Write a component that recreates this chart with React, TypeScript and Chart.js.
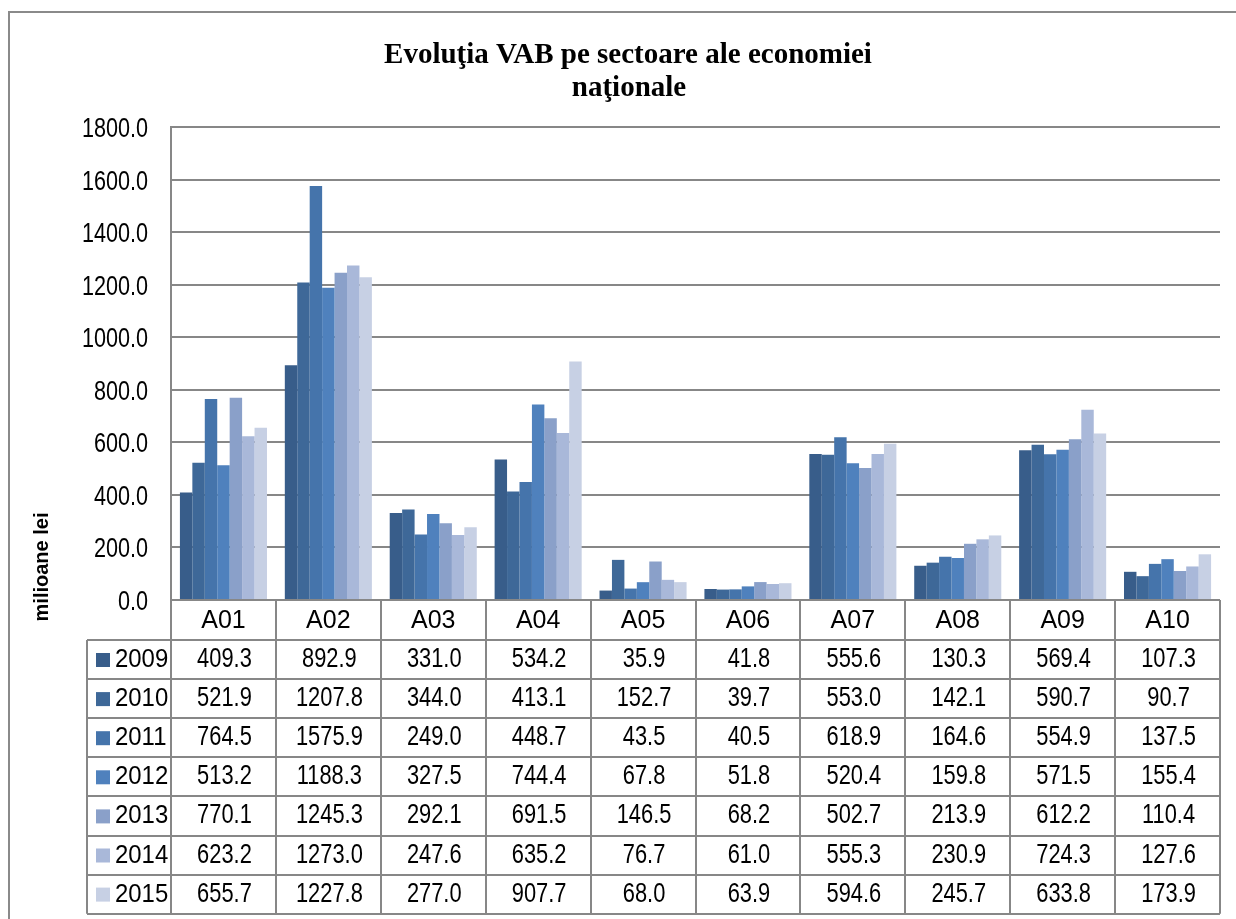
import React, { useEffect, useRef } from "react";
import { Chart, registerables } from "chart.js";

Chart.register(...registerables);

const categories = ["A01", "A02", "A03", "A04", "A05", "A06", "A07", "A08", "A09", "A10"];
const years = ["2009", "2010", "2011", "2012", "2013", "2014", "2015"];
const v2009 = [409.3, 892.9, 331.0, 534.2, 35.9, 41.8, 555.6, 130.3, 569.4, 107.3];
const v2010 = [521.9, 1207.8, 344.0, 413.1, 152.7, 39.7, 553.0, 142.1, 590.7, 90.7];
const v2011 = [764.5, 1575.9, 249.0, 448.7, 43.5, 40.5, 618.9, 164.6, 554.9, 137.5];
const v2012 = [513.2, 1188.3, 327.5, 744.4, 67.8, 51.8, 520.4, 159.8, 571.5, 155.4];
const v2013 = [770.1, 1245.3, 292.1, 691.5, 146.5, 68.2, 502.7, 213.9, 612.2, 110.4];
const v2014 = [623.2, 1273.0, 247.6, 635.2, 76.7, 61.0, 555.3, 230.9, 724.3, 127.6];
const v2015 = [655.7, 1227.8, 277.0, 907.7, 68.0, 63.9, 594.6, 245.7, 633.8, 173.9];
const seriesValues = [v2009, v2010, v2011, v2012, v2013, v2014, v2015];
const colors = ["#385D8A", "#3E6898", "#4574AB", "#4F81BD", "#8AA0C9", "#A9B8D9", "#C7D0E4"];
const titleLines = ["Evoluţia VAB pe sectoare ale economiei", "naţionale"];
const yAxisTitle = "milioane lei";
const yMin = 0;
const yMax = 1800;
const yStep = 200;

const GRID = "#878787";
const SANS = "'Liberation Sans', Arial, sans-serif";
const SERIF = "'Liberation Serif', 'Times New Roman', serif";

function drawText(
  ctx: CanvasRenderingContext2D,
  text: string,
  x: number,
  y: number,
  font: string,
  align: CanvasTextAlign,
  sx: number
) {
  ctx.save();
  ctx.translate(x, y);
  ctx.scale(sx, 1);
  ctx.font = font;
  ctx.textAlign = align;
  ctx.textBaseline = "alphabetic";
  ctx.fillStyle = "#000";
  ctx.fillText(text, 0, 0);
  ctx.restore();
}

const decorPlugin = {
  id: "decor",
  afterDraw(chart: any) {
    const ctx: CanvasRenderingContext2D = chart.ctx;
    const area = chart.chartArea;
    const yScale = chart.scales.y;
    const xScale = chart.scales.x;

    // outer frame
    ctx.save();
    ctx.strokeStyle = "#8a8a8a";
    ctx.lineWidth = 2;
    ctx.beginPath();
    ctx.moveTo(9, 919);
    ctx.lineTo(9, 12);
    ctx.lineTo(1236, 12);
    ctx.stroke();
    ctx.restore();

    // title
    drawText(ctx, titleLines[0], 628, 63, "bold 29px " + SERIF, "center", 1);
    drawText(ctx, titleLines[1], 629, 96, "bold 29px " + SERIF, "center", 1);

    // y tick labels
    yScale.ticks.forEach((t: any) => {
      const y = yScale.getPixelForValue(t.value);
      drawText(ctx, Number(t.value).toFixed(1), 148, y + 10, "27px " + SANS, "right", 0.8);
    });

    // y axis title
    ctx.save();
    ctx.translate(48, 567);
    ctx.rotate(-Math.PI / 2);
    ctx.font = "bold 20px " + SANS;
    ctx.textAlign = "center";
    ctx.textBaseline = "alphabetic";
    ctx.fillStyle = "#000";
    ctx.fillText(yAxisTitle, 0, 0);
    ctx.restore();

    // data table
    const n = categories.length;
    const colW = (area.right - area.left) / n;
    const headTop = area.bottom;
    const headBottom = headTop + 40;
    const rowH = 39.1;
    const legendLeft = 87;
    const tableBottom = headBottom + rowH * years.length;

    ctx.save();
    ctx.strokeStyle = GRID;
    ctx.lineWidth = 2;
    ctx.beginPath();
    for (let i = 0; i <= n; i++) {
      const x = Math.round(area.left + colW * i);
      ctx.moveTo(x, headTop);
      ctx.lineTo(x, tableBottom);
    }
    ctx.moveTo(legendLeft, headBottom);
    ctx.lineTo(legendLeft, tableBottom);
    ctx.moveTo(area.left, headTop);
    ctx.lineTo(area.right, headTop);
    for (let r = 0; r <= years.length; r++) {
      const y = Math.round(headBottom + rowH * r);
      ctx.moveTo(legendLeft, y);
      ctx.lineTo(area.right, y);
    }
    ctx.stroke();
    ctx.restore();

    // header labels
    categories.forEach((c, i) => {
      const cx = xScale.getPixelForValue(i);
      drawText(ctx, c, cx, headTop + 28, "25px " + SANS, "center", 1);
    });

    // rows
    years.forEach((yr, r) => {
      const top = headBottom + rowH * r;
      ctx.fillStyle = colors[r];
      ctx.fillRect(96, top + 13, 14, 14);
      drawText(ctx, yr, 115, top + 27, "26px " + SANS, "left", 0.92);
      seriesValues[r].forEach((v, i) => {
        const cx = xScale.getPixelForValue(i);
        drawText(ctx, v.toFixed(1), cx + 1, top + 27, "27px " + SANS, "center", 0.81);
      });
    });
  },
};

export default function App() {
  const ref = useRef<HTMLCanvasElement | null>(null);
  useEffect(() => {
    if (!ref.current) return;
    const chart = new Chart(ref.current, {
      type: "bar",
      data: {
        labels: categories,
        datasets: years.map((yr, i) => ({
          label: yr,
          data: seriesValues[i],
          backgroundColor: colors[i],
          borderWidth: 0,
          categoryPercentage: 0.83,
          barPercentage: 1.0,
        })),
      },
      options: {
        responsive: false,
        animation: false,
        layout: { padding: { top: 127, bottom: 319, left: 0, right: 16 } },
        plugins: {
          legend: { display: false },
          tooltip: { enabled: false },
          title: { display: false },
        },
        scales: {
          x: { display: false },
          y: {
            min: yMin,
            max: yMax,
            ticks: { stepSize: yStep, display: false },
            grid: { color: GRID, lineWidth: 2, drawTicks: false },
            border: { display: true, color: GRID, width: 2 },
            afterFit: (s: any) => {
              s.width = 171;
            },
          },
        },
      },
      plugins: [decorPlugin],
    });
    return () => chart.destroy();
  }, []);
  return (
    <div style={{ position: "absolute", left: 0, top: 0, width: 1236, height: 919, background: "#fff" }}>
      <canvas ref={ref} width={1236} height={919} style={{ width: 1236, height: 919, display: "block" }} />
    </div>
  );
}
